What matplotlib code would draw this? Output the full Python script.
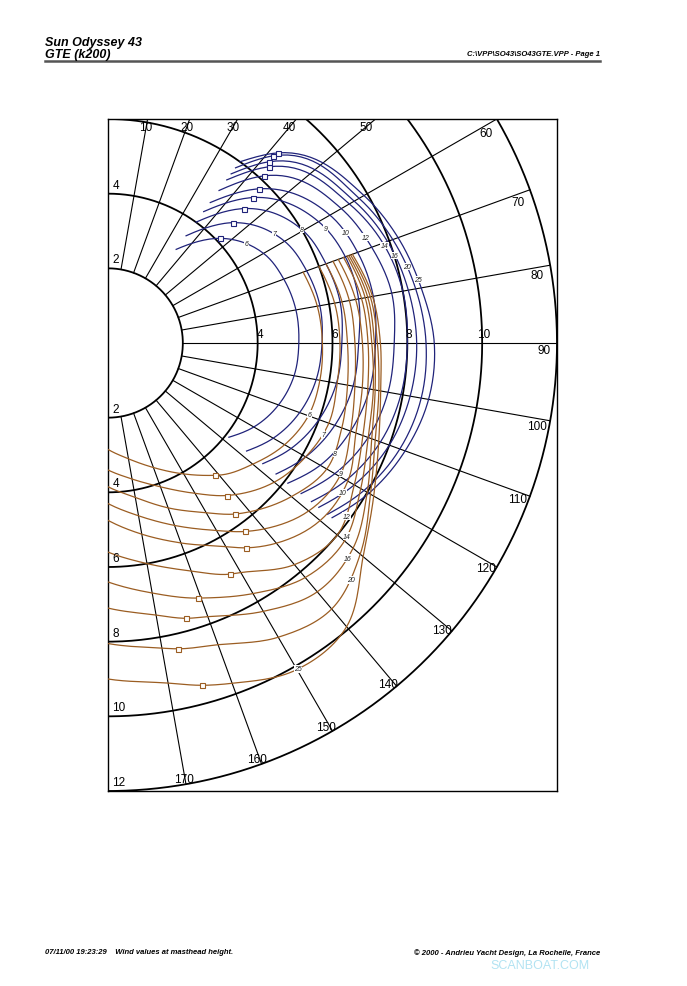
import numpy as np
import matplotlib
matplotlib.use("Agg")
import matplotlib.pyplot as plt

plt.rcParams['font.family'] = ['Liberation Sans', 'DejaVu Sans']

# wind speeds (kt)
tws = [6, 7, 8, 9, 10, 12, 14, 16, 20, 25]

# upwind (blue) polars: true wind angle (deg) -> boat speed (kt)
up_angles = [36, 60, 70, 80, 90, 100, 110, 120, 128]
up_speeds = [
    [3.10, 4.80, 5.00, 5.10, 5.10, 5.05, 4.85, 4.50, 4.10],
    [3.55, 5.45, 5.65, 5.75, 5.72, 5.65, 5.45, 5.10, 4.70],
    [4.00, 6.02, 6.20, 6.30, 6.25, 6.20, 6.00, 5.65, 5.25],
    [4.35, 6.50, 6.75, 6.80, 6.70, 6.65, 6.45, 6.10, 5.70],
    [4.65, 6.85, 7.10, 7.20, 7.15, 7.10, 6.90, 6.55, 6.10],
    [5.05, 7.20, 7.50, 7.70, 7.65, 7.60, 7.40, 7.00, 6.55],
    [5.40, 7.45, 7.82, 8.00, 8.00, 7.95, 7.75, 7.35, 6.90],
    [5.60, 7.60, 7.95, 8.15, 8.25, 8.20, 8.00, 7.60, 7.15],
    [5.80, 7.75, 8.10, 8.35, 8.50, 8.50, 8.30, 7.90, 7.45],
    [6.00, 7.90, 8.25, 8.50, 8.72, 8.70, 8.45, 8.05, 7.60],
]
# optimum beat: angle and speed
beat_angle = [47.0, 46.0, 45.2, 44.8, 44.3, 42.9, 42.3, 41.5, 41.3, 41.7]
beat_speed = [4.11, 4.64, 5.11, 5.49, 5.77, 6.11, 6.38, 6.48, 6.67, 6.82]
# where the wind speed labels sit on the upwind curves
up_label_angle = [54.3, 56.6, 59.6, 62.1, 65.0, 67.6, 70.5, 73.0, 75.6, 78.4]

# downwind (brown) polars
dn_angles = [70, 80, 90, 100, 110, 120, 130, 140, 150, 160, 170, 180]
dn_speeds = [
    [5.55, 5.68, 5.73, 5.75, 5.70, 5.45, 5.05, 4.62, 4.05, 3.55, 3.15, 2.85],
    [6.00, 6.15, 6.20, 6.22, 6.28, 6.10, 5.80, 5.30, 4.65, 4.10, 3.70, 3.40],
    [6.20, 6.35, 6.40, 6.50, 6.65, 6.75, 6.40, 5.90, 5.25, 4.70, 4.20, 3.85],
    [6.40, 6.55, 6.60, 6.70, 6.90, 7.15, 7.00, 6.50, 5.80, 5.20, 4.70, 4.30],
    [6.55, 6.72, 6.80, 6.90, 7.05, 7.40, 7.40, 7.00, 6.30, 5.70, 5.20, 4.75],
    [6.70, 6.88, 6.95, 7.05, 7.25, 7.60, 8.00, 7.75, 7.10, 6.50, 6.00, 5.60],
    [6.80, 6.98, 7.05, 7.20, 7.40, 7.80, 8.25, 8.20, 7.75, 7.27, 6.80, 6.40],
    [6.85, 7.05, 7.12, 7.25, 7.50, 8.00, 8.55, 8.70, 8.30, 7.80, 7.40, 7.10],
    [6.90, 7.12, 7.20, 7.35, 7.60, 8.10, 8.80, 9.30, 9.10, 8.60, 8.30, 8.05],
    [6.95, 7.18, 7.28, 7.40, 7.70, 8.20, 8.90, 9.92, 10.10, 9.70, 9.25, 9.00],
]
# optimum run: angle and speed
run_angle = [141.0, 142.2, 143.5, 144.0, 146.1, 152.2, 160.7, 164.3, 167.2, 164.6]
run_speed = [4.56, 5.17, 5.70, 6.24, 6.61, 7.00, 7.24, 7.66, 8.40, 9.51]
dn_label_angle = [109.5, 113.0, 116.0, 119.3, 122.6, 126.0, 129.0, 132.0, 134.4, 149.8]

# grid
rings = [2, 4, 6, 8, 10, 12]
spokes = list(range(10, 180, 10))

blue = '#20237a'
brown = '#9b5d22'


def xy(ang, r):
    t = np.radians(np.asarray(ang, dtype=float))
    r = np.asarray(r, dtype=float)
    return r * np.sin(t), r * np.cos(t)


def smooth(ang, spd, n=16):
    # cubic hermite through the points, only for drawing
    a = np.asarray(ang, dtype=float)
    r = np.asarray(spd, dtype=float)
    m = np.gradient(r, a)
    aa, rr = [], []
    for i in range(len(a) - 1):
        h = a[i + 1] - a[i]
        t = np.linspace(0, 1, n, endpoint=False)
        h00 = 2 * t**3 - 3 * t**2 + 1
        h10 = t**3 - 2 * t**2 + t
        h01 = -2 * t**3 + 3 * t**2
        h11 = t**3 - t**2
        aa.append(a[i] + t * h)
        rr.append(h00 * r[i] + h10 * h * m[i] + h01 * r[i + 1] + h11 * h * m[i + 1])
    aa.append([a[-1]])
    rr.append([r[-1]])
    return np.concatenate(aa), np.concatenate(rr)


def merged(angles, speeds, extra_a, extra_r):
    a = list(angles) + [extra_a]
    r = list(speeds) + [extra_r]
    order = np.argsort(a)
    return np.array(a)[order], np.array(r)[order]


fig = plt.figure(figsize=(6.87, 9.87), dpi=100)
ax = fig.add_axes([108 / 687, 1 - 792 / 987, 449 / 687, 672 / 987])
ax.set_xlim(0, 12)
ax.set_ylim(-12, 6)
ax.set_xticks([])
ax.set_yticks([])
for s in ax.spines.values():
    s.set_linewidth(1.0)

# rings
th = np.linspace(0, 180, 400)
for rg in rings:
    x, y = xy(th, np.full_like(th, rg))
    ax.plot(x, y, color='black', lw=1.3, zorder=2)
# spokes
for sp in spokes:
    x, y = xy([sp, sp], [2, 12])
    ax.plot(x, y, color='black', lw=0.8, zorder=2)

# ring labels
for rg in rings:
    ax.text(0.12, -rg + 0.08, str(rg), fontsize=8.5, ha='left', va='bottom', zorder=5)
    if rg <= 4:
        ax.text(0.12, rg + 0.08, str(rg), fontsize=8.5, ha='left', va='bottom', zorder=5)
    if 4 <= rg <= 10:
        ax.text(rg + 0.05, 0.08, str(rg), fontsize=8.5, ha='center', va='bottom', zorder=5)

# spoke labels
for sp in spokes:
    if sp <= 50:
        yy = 5.78
        xx = yy * np.tan(np.radians(sp))
    else:
        xx, yy = xy(sp, 11.65)
        yy -= 0.2
    ax.text(xx, yy, str(sp), fontsize=8.5, ha='center', va='center', zorder=5)

# upwind curves
for i, w in enumerate(tws):
    a, r = merged(up_angles, up_speeds[i], beat_angle[i], beat_speed[i])
    sa, sr = smooth(a, r)
    x, y = xy(sa, sr)
    ax.plot(x, y, color=blue, lw=0.9, zorder=3)
    bx, by = xy(beat_angle[i], beat_speed[i])
    ax.plot(bx, by, 's', ms=3.6, mfc='white', mec=blue, mew=0.8, zorder=4)
    la = up_label_angle[i]
    lr = np.interp(la, sa, sr)
    lx, ly = xy(la, lr)
    ax.text(lx, ly, str(w), fontsize=5, style='italic', ha='center', va='center',
            color='#222222', zorder=5,
            bbox=dict(boxstyle='square,pad=0.05', fc='white', ec='none'))

# downwind curves
for i, w in enumerate(tws):
    a, r = merged(dn_angles, dn_speeds[i], run_angle[i], run_speed[i])
    sa, sr = smooth(a, r)
    x, y = xy(sa, sr)
    ax.plot(x, y, color=brown, lw=0.9, zorder=3)
    bx, by = xy(run_angle[i], run_speed[i])
    ax.plot(bx, by, 's', ms=3.6, mfc='white', mec=brown, mew=0.8, zorder=4)
    la = dn_label_angle[i]
    lr = np.interp(la, sa, sr)
    lx, ly = xy(la, lr)
    ax.text(lx, ly, str(w), fontsize=5, style='italic', ha='center', va='center',
            color='#222222', zorder=5,
            bbox=dict(boxstyle='square,pad=0.05', fc='white', ec='none'))

# page header / footer
fig.text(45 / 687, 1 - 43 / 987, 'Sun Odyssey 43', fontsize=9, weight='bold', style='italic',
         va='center')
fig.text(45 / 687, 1 - 55 / 987, 'GTE (k200)', fontsize=9, weight='bold', style='italic',
         va='center')
fig.text(600 / 687, 1 - 54 / 987, 'C:\\VPP\\SO43\\SO43GTE.VPP - Page 1', fontsize=5.5,
         weight='bold', style='italic', ha='right', va='center')
fig.add_artist(plt.Line2D([45 / 687, 600 / 687], [1 - 62 / 987, 1 - 62 / 987],
                          color='#555555', lw=1.8))
fig.text(45 / 687, 1 - 953 / 987, '07/11/00 19:23:29    Wind values at masthead height.',
         fontsize=5.5, weight='bold', style='italic', va='center')
fig.text(600 / 687, 1 - 953 / 987, '\u00a9 2000 - Andrieu Yacht Design, La Rochelle, France',
         fontsize=5.5, weight='bold', style='italic', ha='right', va='center')
fig.text(540 / 687, 1 - 966 / 987, 'SCANBOAT.COM', fontsize=9, color='#9fdcef',
         ha='center', va='center', alpha=0.8)

fig.savefig('out.png', dpi=100)
